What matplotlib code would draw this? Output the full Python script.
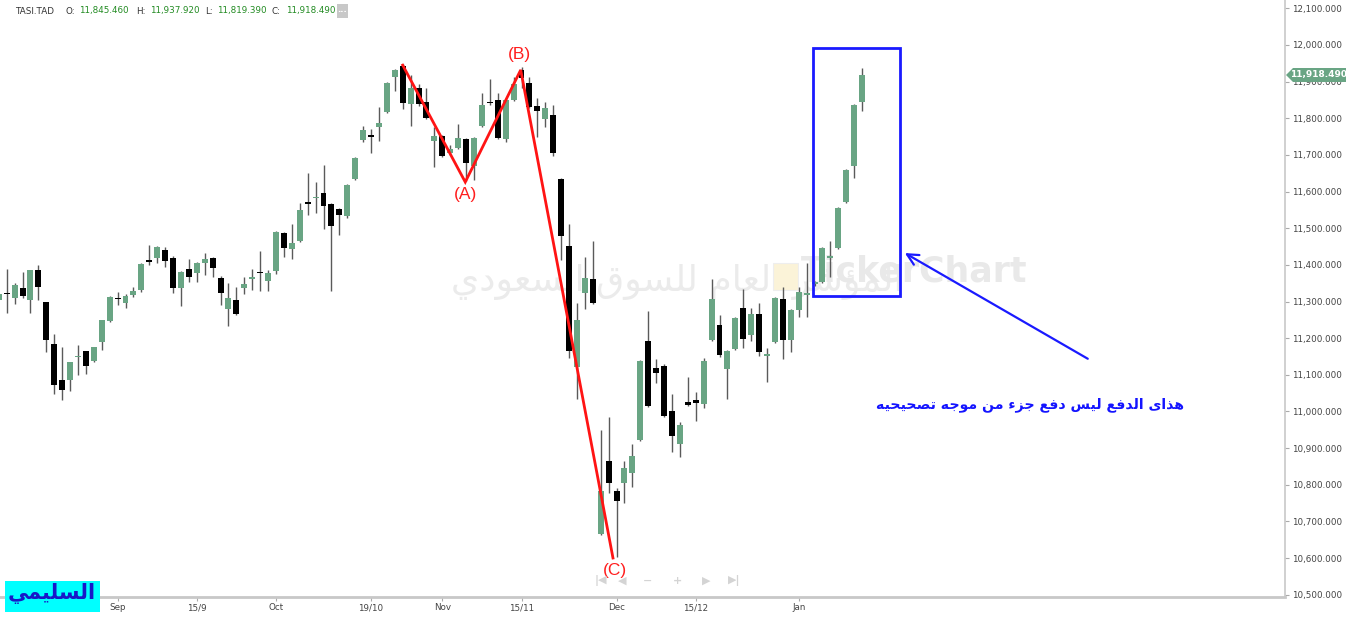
import numpy as np
import matplotlib
matplotlib.use("Agg")
import matplotlib.pyplot as plt
from matplotlib.patches import Rectangle, Polygon

# ---------------- data ----------------
opens = [11304, 11322, 11310, 11337, 11304, 11386, 11299, 11184, 11086, 11086,
         11148, 11165, 11138, 11189, 11247, 11309, 11296, 11318, 11331, 11411,
         11419, 11441, 11419, 11337, 11389, 11378, 11405, 11419, 11364, 11280,
         11304, 11337, 11362, 11380, 11356, 11383, 11487, 11443, 11465, 11570,
         11582, 11596, 11566, 11552, 11533, 11634, 11741, 11753, 11776, 11817,
         11913, 11943, 11839, 11883, 11844, 11738, 11752, 11705, 11719, 11743,
         11670, 11779, 11844, 11850, 11743, 11850, 11932, 11896, 11834, 11798,
         11809, 11634, 11451, 11121, 11323, 11361, 10666, 10865, 10783, 10805,
         10832, 10922, 11192, 11119, 11124, 11001, 10911, 11026, 11031, 11020,
         11195, 11236, 11116, 11170, 11282, 11209, 11266, 11152, 11189, 11307,
         11195, 11277, 11318, 11348, 11353, 11419, 11446, 11572, 11670, 11845.46]
highs = [11331, 11389, 11350, 11381, 11386, 11400, 11299, 11211, 11176, 11135,
         11181, 11165, 11176, 11250, 11315, 11326, 11320, 11340, 11404, 11454,
         11451, 11449, 11424, 11383, 11416, 11408, 11432, 11421, 11370, 11350,
         11340, 11367, 11389, 11438, 11386, 11492, 11490, 11512, 11569, 11651,
         11626, 11673, 11568, 11555, 11620, 11694, 11779, 11771, 11831, 11898,
         11935, 11948, 11918, 11894, 11883, 11776, 11755, 11727, 11784, 11746,
         11749, 11869, 11907, 11869, 11852, 11913, 11940, 11913, 11855, 11844,
         11836, 11637, 11512, 11296, 11421, 11465, 10949, 10985, 10791, 10865,
         10911, 11140, 11274, 11143, 11129, 11048, 10971, 11094, 11053, 11146,
         11361, 11263, 11168, 11258, 11334, 11282, 11296, 11173, 11312, 11340,
         11280, 11340, 11405, 11356, 11449, 11465, 11557, 11662, 11839, 11937.92]
lows = [11290, 11268, 11293, 11310, 11269, 11304, 11162, 11048, 11031, 11056,
        11099, 11102, 11135, 11168, 11245, 11290, 11282, 11312, 11326, 11400,
        11405, 11394, 11323, 11288, 11353, 11353, 11372, 11367, 11290, 11233,
        11263, 11320, 11331, 11329, 11329, 11375, 11421, 11416, 11462, 11536,
        11541, 11498, 11329, 11481, 11528, 11632, 11735, 11705, 11738, 11814,
        11874, 11825, 11779, 11834, 11798, 11667, 11694, 11700, 11716, 11629,
        11632, 11776, 11836, 11743, 11735, 11848, 11883, 11828, 11749, 11776,
        11697, 11413, 11146, 11034, 11280, 11293, 10663, 10777, 10603, 10750,
        10794, 10919, 11012, 11078, 10985, 10889, 10876, 11015, 10974, 11009,
        11192, 11149, 11034, 11168, 11173, 11192, 11151, 11080, 11187, 11143,
        11162, 11258, 11258, 11342, 11351, 11367, 11443, 11569, 11637, 11819.39]
closes = [11320, 11320, 11345, 11315, 11386, 11340, 11195, 11072, 11059, 11135,
          11151, 11124, 11176, 11250, 11312, 11306, 11315, 11329, 11402, 11408,
          11449, 11411, 11337, 11381, 11367, 11405, 11416, 11392, 11323, 11310,
          11266, 11348, 11365, 11377, 11378, 11490, 11446, 11460, 11550, 11567,
          11586, 11561, 11506, 11536, 11618, 11692, 11768, 11750, 11787, 11896,
          11932, 11842, 11883, 11839, 11801, 11752, 11697, 11716, 11746, 11678,
          11746, 11836, 11841, 11746, 11850, 11894, 11910, 11831, 11820, 11828,
          11705, 11479, 11165, 11250, 11364, 11296, 10783, 10805, 10756, 10846,
          10878, 11138, 11015, 11105, 10988, 10933, 10963, 11018, 11023, 11138,
          11307, 11154, 11165, 11255, 11198, 11266, 11162, 11154, 11310, 11195,
          11277, 11326, 11320, 11351, 11446, 11422, 11555, 11659, 11836, 11918.49]

symbol = "TASI.TAD"
date_tick_pos = [15, 25, 35, 47, 56, 66, 78, 88, 101]
date_tick_labels = ["Sep", "15/9", "Oct", "19/10", "Nov", "15/11", "Dec", "15/12", "Jan"]
price_ticks = list(range(10500, 12101, 100))

wave_x = [51.0, 58.9, 65.9, 77.55]
wave_y = [11945, 11626, 11932, 10600]
wave_labels = ["(A)", "(B)", "(C)"]
wave_label_pos = [(58.9, 11591), (65.8, 11973), (77.8, 10565)]

box_x = [102.8, 113.8]
box_y = [11315, 11992]
arrow_from = (137.8, 11140)
arrow_to = (114.1, 11436)
note_text = "هذاى الدفع ليس دفع جزء من موجه تصحيحيه"
note_pos = (130.2, 11018)
watermark_ar = "المؤشر العام للسوق السعودي"
watermark_en = "TickerChart"
logo_text = "السليمي"

# ------------- arabic shaping helper (presentation forms) -------------
FORMS = {
    'ء': ('\uFE80', None, None, None),
    'آ': ('\uFE81', '\uFE82', None, None),
    'أ': ('\uFE83', '\uFE84', None, None),
    'ؤ': ('\uFE85', '\uFE86', None, None),
    'إ': ('\uFE87', '\uFE88', None, None),
    'ئ': ('\uFE89', '\uFE8A', '\uFE8B', '\uFE8C'),
    'ا': ('\uFE8D', '\uFE8E', None, None),
    'ب': ('\uFE8F', '\uFE90', '\uFE91', '\uFE92'),
    'ة': ('\uFE93', '\uFE94', None, None),
    'ت': ('\uFE95', '\uFE96', '\uFE97', '\uFE98'),
    'ث': ('\uFE99', '\uFE9A', '\uFE9B', '\uFE9C'),
    'ج': ('\uFE9D', '\uFE9E', '\uFE9F', '\uFEA0'),
    'ح': ('\uFEA1', '\uFEA2', '\uFEA3', '\uFEA4'),
    'خ': ('\uFEA5', '\uFEA6', '\uFEA7', '\uFEA8'),
    'د': ('\uFEA9', '\uFEAA', None, None),
    'ذ': ('\uFEAB', '\uFEAC', None, None),
    'ر': ('\uFEAD', '\uFEAE', None, None),
    'ز': ('\uFEAF', '\uFEB0', None, None),
    'س': ('\uFEB1', '\uFEB2', '\uFEB3', '\uFEB4'),
    'ش': ('\uFEB5', '\uFEB6', '\uFEB7', '\uFEB8'),
    'ص': ('\uFEB9', '\uFEBA', '\uFEBB', '\uFEBC'),
    'ض': ('\uFEBD', '\uFEBE', '\uFEBF', '\uFEC0'),
    'ط': ('\uFEC1', '\uFEC2', '\uFEC3', '\uFEC4'),
    'ظ': ('\uFEC5', '\uFEC6', '\uFEC7', '\uFEC8'),
    'ع': ('\uFEC9', '\uFECA', '\uFECB', '\uFECC'),
    'غ': ('\uFECD', '\uFECE', '\uFECF', '\uFED0'),
    'ف': ('\uFED1', '\uFED2', '\uFED3', '\uFED4'),
    'ق': ('\uFED5', '\uFED6', '\uFED7', '\uFED8'),
    'ك': ('\uFED9', '\uFEDA', '\uFEDB', '\uFEDC'),
    'ل': ('\uFEDD', '\uFEDE', '\uFEDF', '\uFEE0'),
    'م': ('\uFEE1', '\uFEE2', '\uFEE3', '\uFEE4'),
    'ن': ('\uFEE5', '\uFEE6', '\uFEE7', '\uFEE8'),
    'ه': ('\uFEE9', '\uFEEA', '\uFEEB', '\uFEEC'),
    'و': ('\uFEED', '\uFEEE', None, None),
    'ى': ('\uFEEF', '\uFEF0', None, None),
    'ي': ('\uFEF1', '\uFEF2', '\uFEF3', '\uFEF4'),
}


def shape_ar(s):
    def dual(c):
        return c in FORMS and FORMS[c][2] is not None

    def joinable(c):
        return c in FORMS and FORMS[c][1] is not None

    res = []
    n = len(s)
    i = 0
    while i < n:
        c = s[i]
        prev = s[i - 1] if i > 0 else None
        jp = prev is not None and dual(prev) and joinable(c)
        if c == 'ل' and i + 1 < n and s[i + 1] == 'ا':
            res.append('\uFEFC' if jp else '\uFEFB')
            i += 2
            continue
        if c not in FORMS:
            res.append(c)
            i += 1
            continue
        nxt = s[i + 1] if i + 1 < n else None
        jn = nxt is not None and dual(c) and joinable(nxt)
        iso, fin, ini, med = FORMS[c]
        if jp and jn:
            res.append(med)
        elif jp:
            res.append(fin)
        elif jn:
            res.append(ini)
        else:
            res.append(iso)
        i += 1
    return ''.join(reversed(res))


# ---------------- figure ----------------
W, H = 1347, 617
fig = plt.figure(figsize=(W / 100, H / 100), dpi=100)
fig.patch.set_facecolor("white")


def fx(px):
    return px / W


def fy(py):
    return 1 - py / H


ax = fig.add_axes([0, 20 / H, 1285 / W, 597 / H])
ax.set_facecolor("white")
ax.set_xlim(0.154, 162.4)
ax.set_ylim(10493.6, 12122.8)

O = np.array(opens, float)
Hh = np.array(highs, float)
Lw = np.array(lows, float)
C = np.array(closes, float)
x = np.arange(len(O))
green = "#69a584"
colors = [green if c >= o else "#000000" for o, c in zip(O, C)]

ax.vlines(x, Lw, Hh, color="#5a5a5a", lw=1.0, zorder=3)
bottom = np.minimum(O, C)
height = np.maximum(np.abs(C - O), 4.0)
ax.bar(x, height, width=0.75, bottom=bottom, color=colors, linewidth=0, zorder=4)

# watermark
ax.text(0.527, 0.527, shape_ar(watermark_ar), transform=ax.transAxes, ha="center",
        va="center", fontsize=26, color="#ebebeb", family="DejaVu Sans", zorder=0)
ax.text(0.711, 0.545, watermark_en, transform=ax.transAxes, ha="center", va="center",
        fontsize=25, fontweight="bold", color="#e9e9e9", family="DejaVu Sans", zorder=0)
ax.add_patch(Rectangle((773 / 1285, 1 - 290 / 597), 25 / 1285, 27 / 597, transform=ax.transAxes,
                       facecolor="#fbf3d8", edgecolor="#eeeeee", lw=0.8, zorder=0))

# wave lines
ax.plot(wave_x, wave_y, color="#ff1414", lw=2.0, zorder=6, solid_joinstyle="miter")
for lab, (lx, ly) in zip(wave_labels, wave_label_pos):
    ax.text(lx, ly, lab, color="#ff1e1e", fontsize=12.5, ha="center", va="center",
            family="Liberation Sans", zorder=7)

# highlight box and arrow
ax.add_patch(Rectangle((box_x[0], box_y[0]), box_x[1] - box_x[0], box_y[1] - box_y[0],
                       fill=False, edgecolor="#1a1aff", lw=2.0, zorder=6))
ax.annotate("", xy=arrow_to, xytext=arrow_from,
            arrowprops=dict(arrowstyle="->", color="#1a1aff", lw=1.6, mutation_scale=20),
            zorder=6)
ax.text(note_pos[0], note_pos[1], shape_ar(note_text), color="#1414ff", fontsize=10.2,
        fontweight="bold", ha="center", va="center", family="DejaVu Sans", zorder=7)

# axes styling
for s in ["left", "top"]:
    ax.spines[s].set_visible(False)
ax.spines["right"].set_color("#c8c8c8")
ax.spines["bottom"].set_color("#c8c8c8")
ax.spines["bottom"].set_linewidth(2.0)
ax.spines["right"].set_linewidth(1.2)
ax.yaxis.tick_right()
ax.set_yticks(price_ticks)
ax.set_yticklabels([f"{v:,.3f}" for v in price_ticks])
ax.set_xticks(date_tick_pos)
ax.set_xticklabels(date_tick_labels)
ax.tick_params(axis="y", right=True, left=False, length=3, width=0.8, color="#aaaaaa",
               pad=2, labelsize=6.3, labelcolor="#444444")
ax.tick_params(axis="x", length=3, width=0.8, color="#aaaaaa", pad=1.5, labelsize=6.3,
               labelcolor="#444444")

# header
hdr = [(15, symbol, "#333333"), (65, "O:", "#333333"), (79, f"{opens[-1]:,.3f}", "#228b22"),
       (136, "H:", "#333333"), (150, f"{highs[-1]:,.3f}", "#228b22"),
       (205, "L:", "#333333"), (217, f"{lows[-1]:,.3f}", "#228b22"),
       (272, "C:", "#333333"), (286, f"{closes[-1]:,.3f}", "#228b22")]
for px, t, col in hdr:
    fig.text(fx(px), fy(11), t, color=col, fontsize=6.3, ha="left", va="center",
             family="DejaVu Sans")
fig.add_artist(Rectangle((fx(337), fy(18)), fx(11), 14 / H, transform=fig.transFigure,
                         facecolor="#c8c8c8", edgecolor="none"))
fig.text(fx(342.5), fy(9), "...", color="white", fontsize=6, ha="center", va="center",
         fontweight="bold")

# last price tag
tag = Polygon([(fx(1286), fy(75)), (fx(1293), fy(68)), (fx(1346), fy(68)), (fx(1346), fy(82)),
               (fx(1293), fy(82))], closed=True, transform=fig.transFigure,
              facecolor=green, edgecolor="none", zorder=10)
fig.add_artist(tag)
fig.text(fx(1319), fy(75), f"{closes[-1]:,.3f}", color="white", fontsize=6.5,
         fontweight="bold", ha="center", va="center", zorder=11)

# navigation controls
for px, t in [(601, "|◀"), (622, "◀"), (648, "−"), (677, "+"), (706, "▶"), (734, "▶|")]:
    fig.text(fx(px), fy(581), t, color="#d4d4d4", fontsize=8, ha="center", va="center",
             fontweight="bold")

# logo bottom-left
fig.add_artist(Rectangle((fx(5), fy(612)), fx(95), 31 / H, transform=fig.transFigure,
                         facecolor="#00ffff", edgecolor="none", zorder=12))
fig.text(fx(52), fy(594), shape_ar(logo_text), color="#1818c8", fontsize=15,
         fontweight="bold", ha="center", va="center", family="DejaVu Sans", zorder=13)

fig.savefig("out.png", dpi=100, facecolor="white")
